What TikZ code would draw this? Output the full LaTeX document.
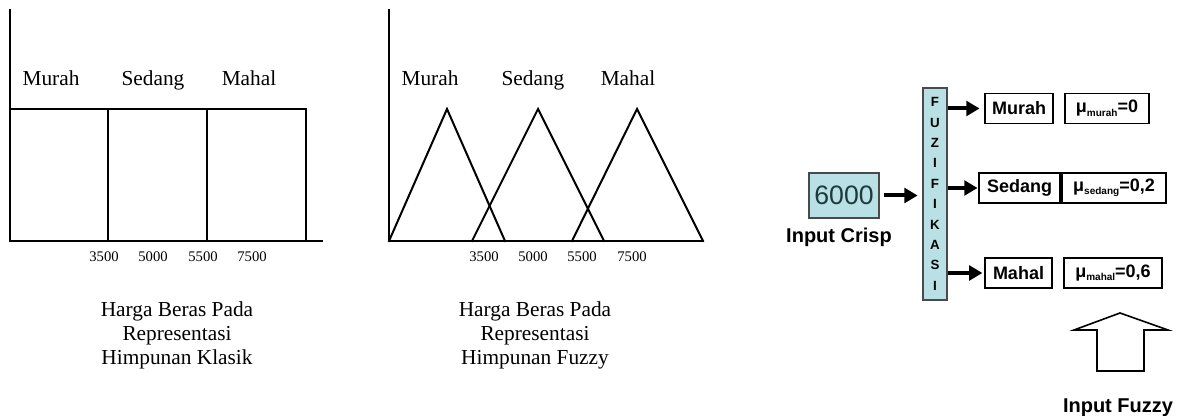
\documentclass[tikz,border=0pt]{standalone}
\usepackage{fontspec}
\setmainfont{Liberation Serif}
\newfontfamily\arialf{Liberation Sans}
\usetikzlibrary{arrows.meta}
\definecolor{fuzblue}{HTML}{B9E0E4}
\definecolor{numcol}{HTML}{1E3A3C}
\definecolor{edgegray}{HTML}{4A4A4A}
\tikzset{
  axisline/.style={line width=1.5pt, line cap=rect},
  setlbl/.style={anchor=base, inner sep=0pt, font=\fontsize{16}{18}\selectfont},
  ticklbl/.style={anchor=base, inner sep=0pt, font=\fontsize{11}{12}\selectfont},
  caplbl/.style={anchor=base, inner sep=0pt, font=\fontsize{16}{18}\selectfont},
  catbox/.style={draw, line width=1.1pt, inner sep=0pt, minimum height=22.5pt,
    font=\arialf\bfseries\fontsize{13.5}{14}\selectfont},
  blubox/.style={draw=edgegray, line width=1pt, fill=fuzblue, inner sep=0pt},
  fat/.style={line width=3pt, -{Triangle[length=10pt,width=11pt]}},
  boldlbl/.style={anchor=base, inner sep=0pt, font=\arialf\bfseries\fontsize{15}{16}\selectfont},
}
\newcommand{\musub}[2]{μ\raisebox{-2.5pt}{\fontsize{7.5}{8}\selectfont #1}=#2}
\begin{document}
\begin{tikzpicture}[x=0.75pt,y=-0.75pt]
\useasboundingbox (0,0) rectangle (1182,416);

% ---------- left chart: classical sets ----------
\draw[axisline] (10,10) -- (10,241) -- (322,241);
\draw[axisline] (10,109) -- (306,109) -- (306,241);
\draw[axisline] (108,109) -- (108,241);
\draw[axisline] (207,109) -- (207,241);
\node[setlbl] (lmurah) at (51,86) {Murah};
\node[setlbl] (lsedang) at (153,86) {Sedang};
\node[setlbl] (lmahal) at (249,86) {Mahal};
\node[ticklbl] (lt1) at (104,262) {3500};
\node[ticklbl] (lt2) at (153,262) {5000};
\node[ticklbl] (lt3) at (203,262) {5500};
\node[ticklbl] (lt4) at (252,262) {7500};
\node[caplbl] (lc1) at (177,317) {Harga Beras Pada};
\node[caplbl] (lc2) at (177,341) {Representasi};
\node[caplbl] (lc3) at (177,365) {Himpunan Klasik};

% ---------- right chart: fuzzy sets ----------
\draw[axisline] (389,10) -- (389,241) -- (703,241);
\draw[axisline, line join=miter] (389,241) -- (447,109) -- (505,241);
\draw[axisline, line join=miter] (472,241) -- (538,109) -- (604,241);
\draw[axisline, line join=miter] (572,241) -- (637,109) -- (703,241);
\node[setlbl] (rmurah) at (430,86) {Murah};
\node[setlbl] (rsedang) at (533,86) {Sedang};
\node[setlbl] (rmahal) at (628,86) {Mahal};
\node[ticklbl] (rt1) at (484,262) {3500};
\node[ticklbl] (rt2) at (533,262) {5000};
\node[ticklbl] (rt3) at (582,262) {5500};
\node[ticklbl] (rt4) at (632,262) {7500};
\node[caplbl] (rc1) at (535,317) {Harga Beras Pada};
\node[caplbl] (rc2) at (535,341) {Representasi};
\node[caplbl] (rc3) at (535,365) {Himpunan Fuzzy};

% ---------- fuzzification diagram ----------
\node[blubox, minimum width=52.5pt, minimum height=33.75pt,
      text=numcol, font=\arialf\fontsize{20}{22}\selectfont] (crisp) at (844,195.5) {6000};
\node[boldlbl] (crisplbl) at (839,243) {Input Crisp};

\node[blubox, minimum width=18pt, minimum height=159pt, align=center,
      font=\arialf\bfseries\fontsize{10}{15.3}\selectfont] (fuz) at (935,194)
      {F\\U\\Z\\I\\F\\I\\K\\A\\S\\I};

\node[catbox, minimum width=51pt] (murah) at (1019,108.5) {Murah};
\node[catbox, minimum width=63pt] (mumurah) at (1107,108.5) {\musub{murah}{0}};
\node[catbox, minimum width=60.75pt] (sedang) at (1019.5,188) {Sedang};
\node[catbox, minimum width=78pt] (musedang) at (1114,188) {\musub{sedang}{0,2}};
\node[catbox, minimum width=50pt] (mahal) at (1018.5,273) {Mahal};
\node[catbox, minimum width=73.5pt] (mumahal) at (1113,273) {\musub{mahal}{0,6}};

\draw[fat, shorten <=3pt, shorten >=3.5pt] (crisp.east) -- (crisp.east -| fuz.west);
\draw[fat, shorten >=3.5pt] (fuz.east |- murah.west) -- (murah.west);
\draw[fat, shorten >=0.5pt] (fuz.east |- sedang.west) -- (sedang.west);
\draw[fat, shorten >=1.5pt] (fuz.east |- mahal.west) -- (mahal.west);

\draw[line width=1.2pt, line join=miter] (1097,371) -- (1097,330) -- (1074,330) -- (1120,313)
   -- (1168,330) -- (1144,330) -- (1144,371) -- cycle;
\node[boldlbl] (fuzzylbl) at (1118,413) {Input Fuzzy};
\end{tikzpicture}
\end{document}
